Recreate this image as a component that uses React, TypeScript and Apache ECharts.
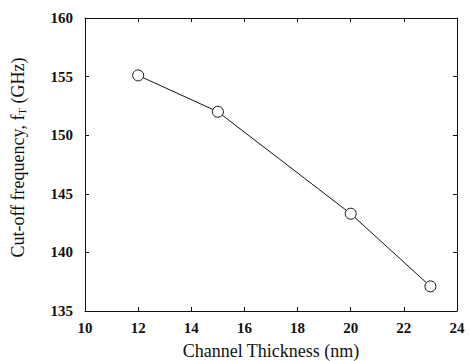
import React, { useEffect, useRef } from "react";
import * as echarts from "echarts";

const thickness = [12, 15, 20, 23];
const cutoffFreq = [155.1, 152.0, 143.3, 137.1];
const xTicks = { min: 10, max: 24, interval: 2 };
const yTicks = { min: 135, max: 160, interval: 5 };

const FONT = "Times New Roman, Liberation Serif, DejaVu Serif, serif";
const INK = "#111";

export default function App() {
  const ref = useRef<HTMLDivElement>(null);
  useEffect(() => {
    if (!ref.current) return;
    const chart = echarts.init(ref.current, undefined, { renderer: "svg" });
    const frameAxis = {
      axisLine: { show: true, lineStyle: { color: INK, width: 1 } },
      axisTick: { show: true, inside: true, length: 4, lineStyle: { color: INK } },
      splitLine: { show: false },
    };
    chart.setOption({
      animation: false,
      backgroundColor: "#fff",
      textStyle: { fontFamily: FONT },
      grid: { left: 85, right: 12, top: 18, bottom: 50, containLabel: false, outerBoundsMode: "none" },
      xAxis: [
        {
          type: "value",
          ...xTicks,
          ...frameAxis,
          position: "bottom",
          name: "Channel Thickness (nm)",
          nameLocation: "middle",
          nameGap: 31,
          nameTextStyle: { fontFamily: FONT, fontSize: 18, color: INK },
          axisLabel: { fontFamily: FONT, fontSize: 15, color: INK, margin: 9, fontWeight: "bold" },
        },
        {
          type: "value",
          ...xTicks,
          ...frameAxis,
          position: "top",
          axisLabel: { show: false },
        },
      ],
      yAxis: [
        {
          type: "value",
          ...yTicks,
          ...frameAxis,
          position: "left",
          name: "Cut-off frequency, f{sub|T} (GHz)",
          nameLocation: "middle",
          nameRotate: 90,
          nameGap: 58,
          nameTextStyle: {
            fontFamily: FONT,
            fontSize: 18,
            color: INK,
            padding: [0, 0, 0, 14],
            rich: {
              sub: { fontFamily: FONT, fontSize: 11, color: INK, verticalAlign: "bottom", padding: [7, 0, 0, 0] },
            },
          },
          axisLabel: { fontFamily: FONT, fontSize: 15, color: INK, margin: 12, fontWeight: "bold" },
        },
        {
          type: "value",
          ...yTicks,
          ...frameAxis,
          position: "right",
          axisLabel: { show: false },
        },
      ],
      series: [
        {
          type: "line",
          data: thickness.map((x, i) => [x, cutoffFreq[i]]),
          symbol: "circle",
          symbolSize: 11,
          itemStyle: { color: "#fff", borderColor: INK, borderWidth: 1 },
          lineStyle: { color: INK, width: 1 },
        },
      ],
    });
    return () => chart.dispose();
  }, []);
  return <div ref={ref} style={{ position: "absolute", left: 0, top: 0, width: 469, height: 361 }} />;
}
